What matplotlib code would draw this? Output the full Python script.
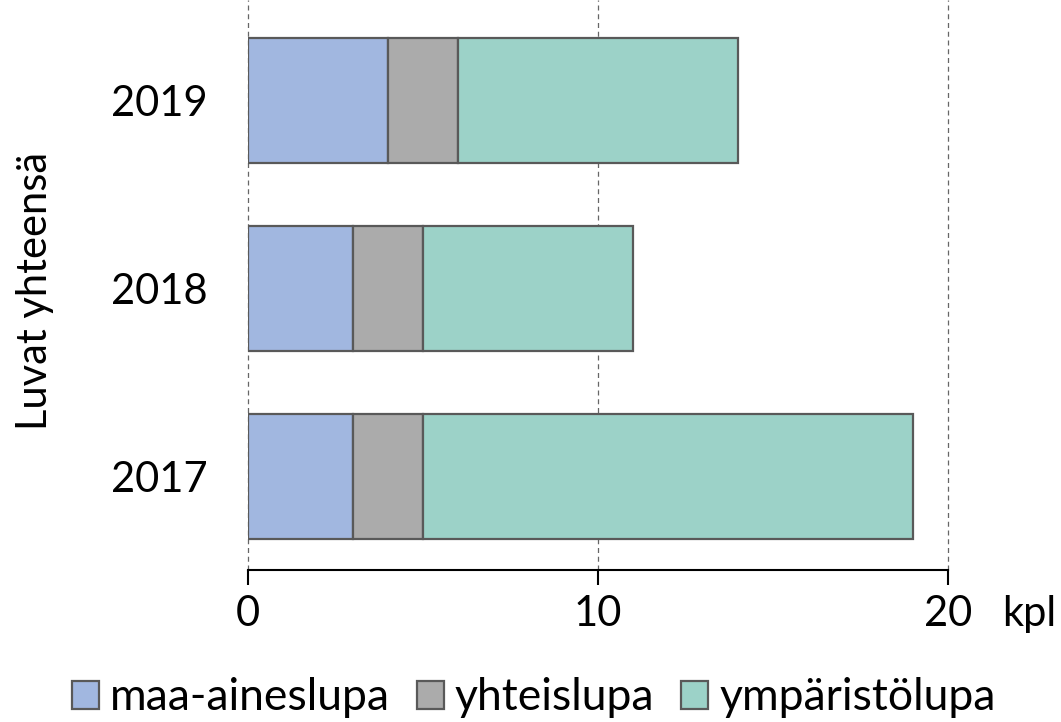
import matplotlib.pyplot as plt
import numpy as np

years = ['2017', '2018', '2019']
maa_aineslupa = [3, 3, 4]
yhteislupa = [2, 2, 2]
ymparistolupa = [14, 6, 8]

series = ['maa-aineslupa', 'yhteislupa', 'ympäristölupa']
colors = ['#A1B7E0', '#ABABAB', '#9CD2C8']

plt.rcParams['font.family'] = ['Lato', 'DejaVu Sans']

fig = plt.figure(figsize=(10.61, 7.22), dpi=100)
ax = fig.add_axes([248 / 1061, 1 - 570 / 722, 700 / 1061, 570 / 722])

y = np.arange(len(years))
left = np.zeros(len(years))
for vals, name, col in zip([maa_aineslupa, yhteislupa, ymparistolupa], series, colors):
    ax.barh(y, vals, left=left, height=0.665, color=col, edgecolor='#595959',
            linewidth=1.6, label=name, zorder=3)
    left = left + np.array(vals)

ax.set_xlim(0, 20)
ax.set_ylim(-0.495, 2.535)
ax.set_xticks([0, 10, 20])
ax.set_xticklabels(['0', '10', '20'])
ax.set_yticks(y)
ax.set_yticklabels(years)

for s in ['top', 'right', 'left']:
    ax.spines[s].set_visible(False)
ax.spines['bottom'].set_linewidth(1.5)
ax.xaxis.grid(True, linestyle=(0, (4, 3)), color='#666666', linewidth=0.9, zorder=0)
for gl in ax.get_xgridlines():
    gl.set_clip_on(False)

ax.tick_params(axis='x', direction='out', length=11, width=1.5, pad=7, labelsize=30)
ax.tick_params(axis='y', length=0, pad=29, labelsize=30)

fig.text(35 / 1061, 1 - 291 / 722, 'Luvat yhteensä', fontsize=30, rotation=90,
         ha='center', va='center')

ax.annotate('kpl', xy=(1, 0), xycoords='axes fraction', xytext=(39, -18),
            textcoords='offset points', ha='left', va='top', fontsize=30)

fig.legend(loc='center', bbox_to_anchor=(0.503, 1 - 698 / 722), ncol=3, frameon=False,
           fontsize=32, handlelength=0.61, handleheight=0.61, handletextpad=0.25,
           columnspacing=0.6, borderaxespad=0, borderpad=0)

fig.savefig('out.png', dpi=100)
